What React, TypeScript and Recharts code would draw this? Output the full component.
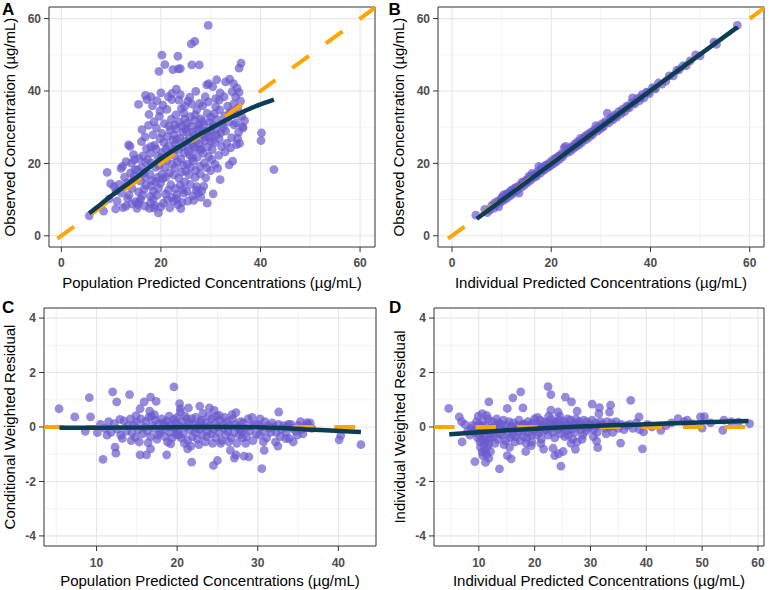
import { CartesianGrid, ReferenceArea, Scatter, ScatterChart, XAxis, YAxis } from 'recharts';

type Pt = [number, number];

// ---- data ----

// A: population predicted vs observed
const popPredObs: Pt[] = [
  [5.6, 5.5], [8.5, 6.8], [9.2, 17.5], [9.6, 10.2], [9.9, 14.4], [10.6, 13.6], [10.9, 7.4],
  [11.2, 9.6], [11.6, 14.2], [12.0, 18.6], [12.3, 19.2], [12.4, 7.8], [12.1, 11.8],
  [13.0, 8.2], [13.3, 10.3], [13.6, 11.2], [13.8, 24.7], [14.2, 13.1], [14.4, 15.2], [14.5, 22.4],
  [13.9, 17.4], [14.8, 18.3], [14.1, 20.1], [14.7, 21.0], [13.5, 25.1], [14.9, 9.4],
  [15.2, 7.6], [15.4, 8.6], [15.6, 9.3], [15.9, 10.1], [16.3, 11.2], [15.5, 12.1], [16.6, 12.8],
  [15.9, 15.1], [16.8, 16.1], [15.3, 18.2], [16.1, 19.0], [16.9, 20.2], [15.6, 21.3], [16.4, 22.1],
  [17.1, 24.1], [16.1, 26.0], [16.8, 27.3], [15.5, 36.3], [16.9, 38.8], [17.2, 37.6], [16.2, 29.3],
  [17.7, 7.6], [18.6, 7.7], [17.9, 9.0], [18.4, 10.1], [17.9, 10.9], [19.2, 11.2], [18.5, 12.3],
  [19.5, 13.1], [19.9, 14.5], [18.2, 15.2], [19.3, 16.1], [17.8, 17.0], [18.9, 18.9], [19.6, 19.4],
  [18.1, 20.1], [19.4, 21.9], [17.9, 22.8], [18.7, 25.0], [19.8, 26.8], [18.4, 27.9], [19.1, 29.8],
  [19.7, 33.0], [18.3, 35.9], [18.0, 38.4], [19.8, 34.5], [19.6, 45.4], [19.5, 6.3],
  [21.8, 7.7], [20.5, 9.0], [21.3, 9.9], [22.2, 10.6], [20.9, 11.5], [21.5, 12.6], [22.0, 14.1],
  [20.4, 15.8], [21.7, 17.4], [20.8, 18.9], [22.3, 19.7], [21.2, 20.8], [20.1, 21.6], [22.0, 22.8],
  [21.0, 23.9], [20.6, 25.8], [22.4, 26.5], [21.3, 27.4], [20.2, 28.3], [21.9, 29.2], [20.7, 31.0],
  [22.1, 32.2], [21.2, 34.9], [20.4, 36.1], [22.2, 37.6], [22.2, 39.3], [20.8, 47.3], [20.2, 49.9],
  [22.4, 45.9],
  [23.4, 8.6], [24.2, 9.2], [23.2, 10.2], [24.6, 11.8], [23.2, 11.4], [22.9, 13.0], [24.8, 14.9],
  [23.6, 15.9], [24.1, 17.6], [22.8, 18.8], [24.5, 19.5], [23.3, 20.4], [24.0, 21.3], [22.7, 22.1],
  [24.7, 22.9], [23.5, 23.8], [24.3, 24.6], [22.9, 25.4], [24.9, 26.2], [23.8, 27.0], [22.6, 27.9],
  [24.4, 28.6], [23.1, 29.5], [24.2, 30.3], [23.7, 31.4], [24.8, 32.2], [23.0, 33.4], [24.1, 35.1],
  [23.6, 37.5], [24.8, 35.8], [23.9, 39.0], [23.5, 46.1], [23.9, 46.2], [23.4, 49.6],
  [25.2, 12.3], [25.4, 9.6], [26.4, 11.0], [27.2, 13.6], [25.9, 14.2], [26.9, 16.1], [25.6, 16.9],
  [27.0, 18.0], [25.3, 19.8], [26.5, 20.6], [27.3, 21.7], [25.8, 22.3], [26.9, 23.9], [25.4, 24.7],
  [26.2, 25.4], [27.1, 26.2], [25.7, 27.0], [26.6, 27.9], [25.1, 28.8], [27.4, 29.4], [26.0, 30.2],
  [25.3, 31.1], [26.8, 31.9], [25.9, 32.9], [27.2, 34.8], [25.4, 37.2], [26.2, 36.4], [27.0, 39.9],
  [26.2, 47.2], [26.1, 53.0], [26.8, 53.7], [27.5, 11.8],
  [29.3, 9.0], [28.0, 10.6], [28.2, 12.4], [28.6, 13.7], [29.2, 18.8], [27.9, 17.1], [28.7, 20.1],
  [29.6, 21.9], [28.1, 23.7], [29.4, 24.5], [27.8, 25.3], [28.8, 26.2], [29.7, 27.1], [28.3, 28.0],
  [29.1, 28.9], [27.7, 29.8], [28.6, 30.7], [29.8, 31.4], [28.0, 32.3], [29.3, 33.8], [28.4, 35.9],
  [29.5, 37.0], [28.9, 38.4], [29.2, 41.7], [29.6, 42.0], [27.7, 47.2], [29.5, 58.1],
  [30.5, 11.6], [31.9, 15.5], [31.4, 18.6], [30.9, 19.7], [31.6, 22.2], [30.3, 23.8], [32.2, 24.6],
  [30.8, 25.7], [31.7, 26.8], [30.2, 27.6], [32.0, 28.4], [31.1, 29.3], [30.5, 30.4], [32.3, 31.0],
  [31.3, 32.1], [30.7, 33.7], [31.8, 34.8], [31.0, 37.9], [31.9, 39.5], [31.7, 37.5], [31.2, 43.1],
  [30.4, 41.2],
  [33.7, 19.6], [34.4, 20.6], [32.9, 23.2], [33.2, 25.5], [34.2, 27.1], [33.0, 28.9], [34.7, 30.6],
  [33.6, 31.4], [32.8, 33.1], [34.1, 34.4], [33.4, 35.8], [34.6, 36.4], [32.7, 38.4], [34.3, 39.8],
  [33.0, 42.5], [33.8, 43.3], [34.6, 42.0],
  [35.2, 25.2], [35.8, 25.5], [35.6, 28.6], [36.4, 30.1], [35.1, 31.2], [36.5, 29.8], [36.2, 33.0],
  [35.4, 35.1], [35.0, 38.4], [36.0, 37.2], [35.7, 39.6], [35.3, 40.8], [36.1, 47.7], [35.7, 46.3],
  [40.2, 28.4], [40.1, 26.3], [42.7, 18.3],
  [17.0, 14.0], [18.0, 13.8], [19.0, 15.0], [20.2, 17.0], [21.0, 16.2], [22.6, 16.8], [23.9, 14.0],
  [24.4, 12.8], [25.0, 17.8], [26.0, 19.0], [26.3, 21.5], [27.8, 19.2], [28.5, 22.8], [30.2, 21.0],
  [29.0, 16.0], [30.0, 18.0], [21.5, 24.8], [22.8, 24.0], [23.2, 26.6], [25.5, 23.3], [26.7, 24.5],
  [27.9, 24.0], [28.7, 27.3], [30.1, 26.0], [31.2, 27.9], [29.9, 29.0], [25.0, 29.6], [26.4, 28.6],
  [27.6, 30.6], [28.4, 31.6], [30.0, 32.8], [26.9, 33.4], [24.6, 33.9], [22.8, 30.6], [21.6, 30.3],
  [19.0, 24.0], [20.3, 23.0], [18.0, 24.6], [17.3, 21.0], [16.6, 17.4], [14.6, 16.4], [13.2, 14.6],
  [12.7, 16.2], [11.0, 12.4], [13.0, 20.5], [18.8, 8.4], [20.0, 8.0], [22.6, 9.6], [16.8, 8.2],
  [14.1, 8.8], [26.6, 9.8], [27.1, 12.6], [24.0, 7.5], [32.5, 29.9], [33.8, 33.9], [34.9, 33.6],
  [31.0, 35.6], [36.8, 31.8], [35.4, 26.9], [34.0, 24.3], [27.8, 36.6], [25.8, 38.3], [23.1, 40.5],
  [21.5, 38.4], [20.0, 39.5], [19.2, 37.3], [17.6, 33.5], [18.6, 31.5], [17.5, 30.5],
];
const popPredLoess: Pt[] = [
  [5.6, 6.2], [8, 8.8], [10, 11.0], [12.5, 13.5], [15, 16.0], [17.5, 18.7], [20, 21.3],
  [22.5, 23.6], [25, 25.7], [27.5, 27.8], [30, 29.7], [32.5, 31.6], [35, 33.3], [37.5, 34.9],
  [40, 36.3], [42.7, 37.6],
];

// B: individual predicted vs observed
const indPredObs: Pt[] = [
  [4.8, 5.7], [6.6, 7.3], [7.1, 6.4], [7.6, 7.1], [8.0, 8.3], [8.4, 7.6], [8.8, 8.4], [9.2, 9.6],
  [9.4, 8.0], [9.8, 9.3], [10.1, 10.6], [10.3, 9.7], [10.6, 10.1], [10.9, 11.2], [11.1, 10.4],
  [11.4, 11.8], [11.7, 11.0], [12.0, 12.6], [12.2, 11.6], [12.5, 12.2], [12.8, 13.3], [13.1, 12.5],
  [13.5, 11.8], [13.7, 13.9], [14.0, 13.4], [14.3, 14.6], [14.6, 14.0], [14.9, 15.4], [15.2, 14.7],
  [15.5, 16.4], [15.8, 15.3], [16.1, 17.2], [16.4, 16.0], [16.7, 16.9], [17.0, 16.4], [17.3, 17.8],
  [17.5, 19.2], [17.8, 17.3], [18.1, 18.9], [18.4, 18.0], [18.7, 18.4], [19.0, 19.6], [19.3, 18.8],
  [19.6, 20.1], [19.9, 19.4], [20.2, 20.8], [20.5, 19.9], [20.8, 21.4], [21.1, 20.5], [21.4, 21.9],
  [21.7, 21.2], [22.0, 22.6], [22.3, 21.8], [22.6, 24.3], [22.9, 24.7], [23.2, 23.0], [23.5, 23.9],
  [23.8, 23.3], [24.1, 24.6], [24.4, 24.0], [24.7, 25.3], [25.0, 24.6], [25.3, 26.0], [25.6, 25.1],
  [25.9, 26.9], [26.2, 25.8], [26.5, 26.9], [26.8, 27.5], [27.1, 26.6], [27.4, 28.1], [27.7, 27.3],
  [28.0, 28.6], [28.3, 27.9], [28.6, 29.2], [29.0, 30.4], [29.3, 28.9], [29.6, 30.1], [29.9, 29.5],
  [30.2, 30.9], [30.5, 30.1], [30.9, 31.5], [31.3, 33.9], [31.6, 31.2], [32.0, 32.6], [32.4, 32.0],
  [32.8, 33.4], [33.2, 32.8], [33.6, 34.3], [34.0, 33.6], [34.4, 35.0], [34.8, 34.3], [35.2, 35.8],
  [35.7, 35.3], [36.2, 36.8], [36.4, 38.1], [36.8, 36.4], [37.3, 37.9], [37.8, 37.3], [38.3, 39.0],
  [38.7, 38.1], [39.2, 39.7], [39.8, 39.3], [40.4, 40.9], [41.0, 40.6], [41.6, 42.2], [42.3, 41.9],
  [43.1, 42.7], [43.8, 44.2], [44.6, 44.2], [45.3, 45.7], [45.8, 45.9], [46.5, 46.9], [47.2, 47.0],
  [48.0, 48.3], [49.1, 50.0], [50.0, 49.7], [52.8, 53.5], [53.3, 52.9], [57.5, 58.1],
  [8.6, 9.1], [9.9, 10.2], [10.4, 11.3], [11.0, 11.6], [11.8, 12.3], [12.6, 13.0], [13.3, 13.6],
  [14.1, 14.8], [15.0, 15.1], [15.6, 15.9], [16.3, 16.6], [17.1, 17.0], [18.0, 18.3], [18.8, 19.3],
  [19.5, 19.2], [20.3, 20.3], [21.0, 21.3], [21.8, 22.1], [22.5, 22.4], [23.3, 23.6], [24.0, 24.1],
  [24.8, 24.9], [25.5, 25.7], [26.3, 26.5], [27.0, 27.2], [27.8, 28.0], [28.5, 28.6], [29.4, 29.7],
  [30.3, 30.2], [31.0, 31.2], [32.1, 32.2], [33.0, 33.1], [34.2, 34.2], [35.4, 35.5], [36.6, 36.7],
  [38.0, 38.2], [39.5, 39.6], [40.8, 40.8],
];
const indPredLoess: Pt[] = [[5, 4.7], [15, 14.8], [30, 30.0], [45, 45.1], [57.6, 57.7]];

// C: population predicted vs CWRES
const popPredCwres: Pt[] = [
  [5.35, 0.67], [7.3, 0.37], [9.1, 1.08], [9.25, 0.37], [8.6, -0.16], [10.1, -0.21], [10.8, -1.19],
  [12.0, 1.29], [12.5, 0.92], [12.3, -0.74], [12.4, -0.96], [14.1, 1.19], [15.4, -1.02], [16.2, -1.02],
  [16.7, -0.8], [15.9, 0.92], [16.7, 1.1], [17.4, 0.94], [15.4, 0.67], [16.6, 0.58], [19.6, 1.47],
  [20.3, 0.86], [20.4, 0.67], [18.7, -1.02], [21.4, 0.7], [22.8, 0.77], [21.3, -0.8], [21.8, -1.29],
  [24.0, 0.7], [24.6, 0.61], [24.5, -1.41], [25.0, -1.23], [25.2, 0.43], [26.6, -0.86], [27.1, -1.14],
  [27.3, -1.02], [27.3, 0.53], [28.3, -1.07], [28.9, -1.1], [30.5, -1.53], [30.8, -0.86], [32.6, 0.55],
  [32.2, -0.55], [32.5, -0.7], [33.5, -0.43], [34.4, -0.55], [36.1, 0.16], [40.1, -0.47], [40.3, -0.31],
  [42.8, -0.65], [35.3, 0.2], [33.9, -0.42],
  [10.5, 0.1], [11.0, -0.05], [11.5, 0.2], [11.8, -0.2], [11.3, -0.3],
  [12.2, 0.12], [12.6, -0.08], [13.0, -0.3], [13.4, 0.22], [13.7, -0.15], [13.9, 0.05], [13.2, -0.42],
  [12.9, 0.28],
  [14.2, 0.3], [14.4, -0.22], [14.6, 0.08], [14.8, -0.38], [15.0, 0.18], [15.2, -0.1], [15.5, 0.3],
  [15.7, -0.25], [15.9, 0.0], [14.3, -0.5], [15.3, -0.55], [14.9, 0.42],
  [16.1, 0.2], [16.3, -0.15], [16.5, 0.35], [16.7, -0.35], [16.9, 0.05], [17.1, -0.05], [17.3, 0.25],
  [17.5, -0.45], [17.7, 0.12], [17.9, -0.2], [16.4, -0.58], [17.2, 0.45], [16.8, 0.4], [17.6, -0.3],
  [18.1, 0.3], [18.2, -0.1], [18.4, 0.05], [18.5, -0.35], [18.7, 0.22], [18.8, -0.55], [19.0, 0.4],
  [19.1, -0.2], [19.3, 0.1], [19.4, -0.4], [19.6, 0.28], [19.7, -0.05], [19.9, -0.28], [18.3, 0.15],
  [19.2, -0.62], [18.9, 0.0], [19.8, 0.15],
  [20.0, 0.35], [20.1, -0.15], [20.3, 0.05], [20.5, -0.4], [20.6, 0.2], [20.8, -0.25], [21.0, 0.4],
  [21.1, 0.0], [21.3, -0.5], [21.5, 0.15], [21.6, -0.1], [21.8, 0.3], [21.9, -0.35], [20.4, 0.55],
  [21.2, 0.3], [20.9, -0.6], [21.7, -0.7], [20.2, -0.3],
  [22.0, 0.1], [22.2, -0.2], [22.3, 0.35], [22.5, -0.45], [22.6, 0.05], [22.8, -0.1], [23.0, 0.25],
  [23.1, -0.3], [23.3, 0.0], [23.5, -0.55], [23.6, 0.15], [23.8, -0.15], [23.9, 0.4], [22.7, -0.65],
  [23.2, 0.5], [22.4, -0.05], [23.7, -0.35], [22.9, 0.2],
  [24.0, 0.05], [24.2, -0.25], [24.3, 0.3], [24.5, -0.1], [24.7, 0.15], [24.8, -0.4], [25.0, 0.0],
  [25.2, -0.2], [25.3, 0.25], [25.5, -0.5], [25.7, 0.1], [25.8, -0.05], [26.0, -0.3], [24.4, -0.6],
  [25.4, -0.6], [25.9, 0.35], [24.9, 0.4],
  [26.2, 0.2], [26.3, -0.15], [26.5, 0.05], [26.7, -0.4], [26.9, 0.3], [27.0, -0.2], [27.2, 0.1],
  [27.4, -0.6], [27.5, 0.0], [27.7, -0.3], [27.9, 0.2], [26.4, -0.55], [27.8, -0.1], [26.8, 0.45],
  [28.0, -0.2], [28.2, 0.15], [28.4, -0.05], [28.6, -0.35], [28.8, 0.3], [29.0, -0.15], [29.2, 0.05],
  [29.4, -0.5], [29.6, 0.1], [29.8, -0.25], [28.5, -0.6], [29.3, 0.35], [28.1, -0.4],
  [30.0, 0.1], [30.2, -0.3], [30.4, 0.0], [30.6, -0.15], [30.9, 0.2], [31.1, -0.4], [31.3, 0.05],
  [31.6, -0.2], [31.8, 0.15], [30.7, -0.55], [31.4, -0.05], [30.3, 0.3],
  [32.0, 0.0], [32.3, -0.2], [32.6, 0.1], [32.9, -0.1], [33.2, 0.05], [33.5, -0.2], [33.8, 0.1],
  [32.8, -0.35], [33.6, 0.0],
  [34.1, 0.1], [34.3, -0.05], [34.7, -0.15], [35.0, 0.05], [35.4, -0.1], [35.8, 0.0], [36.2, 0.1],
  [36.5, 0.15], [36.7, -0.05], [35.6, -0.25], [34.9, -0.3],
];
const popPredCwresLoess: Pt[] = [
  [5.4, -0.03], [10, -0.03], [15, -0.02], [20, -0.01], [25, 0.0], [30, -0.01], [33, -0.04],
  [36, -0.09], [39, -0.13], [42.8, -0.18],
];

// D: individual predicted vs IWRES
const indPredIwres: Pt[] = [
  [4.6, 0.68], [6.5, 0.37], [6.9, 0.2], [7.0, -0.55], [9.3, -1.27], [11.8, 0.92], [9.9, 0.4],
  [10.6, 0.49], [11.4, 0.43], [11.2, -1.3], [11.8, -1.14], [10.6, -0.92], [13.7, -1.54], [15.1, -1.05],
  [15.8, -1.17], [15.1, 0.68], [16.1, 1.07], [17.5, 1.29], [17.9, 0.7], [18.4, -0.9], [19.4, -0.68],
  [22.4, 1.48], [22.9, 1.19], [22.9, 0.62], [24.2, 0.55], [23.6, -1.05], [24.3, -0.98], [24.7, -1.44],
  [25.5, 1.1], [26.6, 0.92], [27.6, 0.58], [27.3, -0.82], [30.3, 0.84], [31.1, -0.52], [31.3, -0.76],
  [31.6, 0.71], [31.5, 0.49], [33.6, 0.8], [33.4, 0.55], [35.4, -0.59], [37.2, 0.98], [38.7, 0.37],
  [39.3, -0.8], [39.5, -0.18], [42.6, -0.12], [45.7, 0.31], [47.3, 0.25], [49.7, 0.37], [50.0, -0.04],
  [53.7, -0.12], [53.9, 0.25], [58.5, 0.12], [21.6, -0.81], [23.3, -0.78], [25.1, -0.9],
  [7.5, 0.1], [8.0, -0.15], [8.4, -0.3], [8.8, 0.05], [9.2, -0.2], [9.6, 0.2], [9.8, -0.4],
  [8.6, -0.05], [9.4, -0.1],
  [10.0, 0.1], [10.1, -0.3], [10.2, -0.55], [10.3, -0.75], [10.4, 0.0], [10.5, -0.2], [10.6, -0.45],
  [10.8, 0.2], [10.9, -0.65], [11.0, -0.35], [11.1, -0.85], [11.2, 0.05], [11.3, -0.5], [11.4, -1.0],
  [11.5, -0.15], [11.6, -0.7], [11.7, 0.3], [11.9, -0.4], [12.0, -0.05], [12.1, -0.9], [12.2, -0.25],
  [10.7, -1.05], [11.8, -0.6],
  [12.4, 0.2], [12.6, -0.35], [12.8, 0.05], [13.0, -0.15], [13.2, 0.3], [13.4, -0.45], [13.6, 0.0],
  [13.8, -0.25], [12.9, -0.6], [13.5, 0.15],
  [14.0, 0.1], [14.2, -0.3], [14.4, 0.25], [14.6, -0.1], [14.8, -0.5], [15.0, 0.05], [15.2, -0.2],
  [15.4, 0.2], [15.6, -0.4], [15.8, 0.0], [14.5, -0.65], [15.5, -0.75], [16.0, -0.3],
  [16.2, 0.15], [16.4, -0.1], [16.6, -0.35], [16.8, 0.05], [17.0, -0.2], [17.2, 0.25], [17.4, -0.5],
  [17.6, 0.0], [17.8, -0.15], [16.5, -0.55], [17.9, 0.1],
  [18.0, -0.35], [18.2, 0.1], [18.4, -0.05], [18.6, -0.4], [18.8, 0.2], [19.0, -0.2], [19.2, 0.05],
  [19.4, -0.3], [19.6, 0.15], [19.8, -0.1], [18.5, -0.6], [19.5, -0.55],
  [20.0, 0.3], [20.2, -0.05], [20.4, -0.3], [20.6, 0.1], [20.8, -0.2], [21.0, 0.25], [21.2, -0.45],
  [21.4, 0.0], [21.6, -0.15], [21.8, 0.2], [20.5, 0.35], [21.1, -0.6], [20.9, 0.05],
  [22.0, -0.1], [22.2, 0.15], [22.4, -0.3], [22.6, 0.05], [22.8, -0.05], [23.0, 0.3], [23.2, -0.2],
  [23.4, 0.1], [23.6, -0.4], [23.8, 0.0], [22.5, 0.4], [23.5, 0.2],
  [24.0, 0.15], [24.2, -0.1], [24.4, 0.25], [24.6, -0.25], [24.8, 0.05], [25.0, -0.05], [25.2, 0.2],
  [25.4, -0.35], [25.6, 0.1], [25.8, -0.15], [24.5, 0.4], [25.9, 0.3],
  [26.0, -0.3], [26.2, 0.05], [26.4, 0.25], [26.6, -0.1], [26.8, -0.45], [27.0, 0.1], [27.2, -0.2],
  [27.4, 0.3], [27.6, -0.55], [27.8, 0.0], [26.5, -0.6], [27.3, 0.15],
  [28.0, 0.2], [28.2, -0.1], [28.4, 0.05], [28.6, -0.3], [28.8, 0.25], [29.0, 0.0], [29.2, -0.15],
  [29.4, 0.2], [29.6, -0.05], [29.8, 0.1], [28.5, -0.45],
  [30.0, 0.05], [30.3, 0.25], [30.6, -0.1], [30.9, 0.15], [31.2, -0.2], [31.5, 0.05], [31.8, 0.2],
  [30.5, -0.35],
  [32.2, 0.1], [32.6, -0.05], [33.0, 0.2], [33.4, 0.0], [33.8, 0.15], [34.2, 0.05], [34.6, 0.2],
  [35.0, -0.05], [35.5, 0.1], [36.0, -0.1], [36.5, 0.05], [32.8, -0.25], [34.0, -0.2],
  [37.0, 0.1], [37.6, -0.05], [38.2, 0.15], [38.8, -0.1], [40.2, 0.1], [41.0, 0.0], [43.5, 0.05],
  [44.5, 0.15], [46.8, 0.2], [48.1, 0.12], [50.4, 0.38], [51.5, 0.15], [55.2, 0.2], [56.5, 0.18],
];
const indPredIwresLoess: Pt[] = [
  [4.7, -0.27], [10, -0.19], [15, -0.12], [20, -0.06], [25, -0.01], [30, 0.03], [35, 0.07],
  [40, 0.1], [45, 0.14], [50, 0.17], [55, 0.2], [58.3, 0.22],
];

// reference lines (identity / zero)
const identityLine: Pt[] = [[-0.8, -0.8], [64, 64]];
const zeroLineC: Pt[] = [[3.48, 0], [44.67, 0]];
const zeroLineD: Pt[] = [[1.97, 0], [61.08, 0]];

// ticks
const concTicks = [0, 20, 40, 60];
const concMinor = [10, 30, 50];
const resTicks = [-4, -2, 0, 2, 4];
const resMinor = [-3, -1, 1, 3];
const popTicksC = [10, 20, 30, 40];
const popMinorC = [5, 15, 25, 35];
const indTicksD = [10, 20, 30, 40, 50, 60];
const indMinorD = [5, 15, 25, 35, 45, 55];

const toXY = (pts: Pt[]) => pts.map(([x, y]) => ({ x, y }));

const POINT = '#6a5acd';
const SMOOTH = '#0b3d55';
const DASH = '#ffa500';
const FONT = '"Liberation Sans", Arial, Helvetica, sans-serif';

const Dot = (p: any) => (
  <circle cx={p.cx} cy={p.cy} r={4.4} fill={POINT} fillOpacity={0.7} />
);
const NoDot = () => <g />;

type PanelProps = {
  left: number;
  top: number;
  margin: { top: number; right: number; left: number; bottom: number };
  yWidth: number;
  xHeight: number;
  xDomain: [number, number];
  yDomain: [number, number];
  xTicks: number[];
  xMinor: number[];
  yTicks: number[];
  yMinor: number[];
  xTitle: string;
  yTitle: string;
  yTitleX: number;
  xTitleOffset: number;
  xTickMargin: number;
  points: Pt[];
  refLine: Pt[];
  smooth: Pt[];
};

function Panel(p: PanelProps) {
  const tick = { fill: '#4d4d4d', fontSize: 12, fontWeight: 700, fontFamily: FONT };
  return (
    <div style={{ position: 'absolute', left: p.left, top: p.top }}>
      <ScatterChart width={386} height={295} margin={p.margin}>
        <CartesianGrid
          horizontalValues={p.yMinor}
          verticalValues={p.xMinor}
          stroke="#f0f0f0"
          strokeWidth={0.8}
        />
        <CartesianGrid
          horizontalValues={p.yTicks}
          verticalValues={p.xTicks}
          stroke="#e6e6e6"
          strokeWidth={1.1}
        />
        <XAxis
          type="number"
          dataKey="x"
          domain={p.xDomain}
          allowDataOverflow
          ticks={p.xTicks}
          height={p.xHeight}
          tick={tick}
          tickSize={5}
          tickMargin={p.xTickMargin}
          tickLine={{ stroke: '#333333' }}
          axisLine={false}
          label={{
            value: p.xTitle,
            position: 'insideBottom',
            offset: p.xTitleOffset,
            style: { fontSize: 15, fill: '#000', fontFamily: FONT },
          }}
        />
        <YAxis
          type="number"
          dataKey="y"
          domain={p.yDomain}
          allowDataOverflow
          ticks={p.yTicks}
          width={p.yWidth}
          tick={tick}
          tickSize={5}
          tickMargin={3}
          tickLine={{ stroke: '#333333' }}
          axisLine={false}
          label={{
            value: p.yTitle,
            angle: -90,
            position: 'insideLeft',
            offset: p.yTitleX,
            style: { textAnchor: 'middle', fontSize: 15, fill: '#000', fontFamily: FONT },
          }}
        />
        <Scatter data={toXY(p.points)} shape={Dot} isAnimationActive={false} />
        <Scatter
          data={toXY(p.refLine)}
          shape={NoDot}
          line={{ stroke: DASH, strokeWidth: 4, strokeDasharray: '20.5 21' }}
          isAnimationActive={false}
        />
        <Scatter
          data={toXY(p.smooth)}
          shape={NoDot}
          line={{ stroke: SMOOTH, strokeWidth: 4.5 }}
          lineJointType="monotoneX"
          isAnimationActive={false}
        />
        <ReferenceArea
          x1={p.xDomain[0]}
          x2={p.xDomain[1]}
          y1={p.yDomain[0]}
          y2={p.yDomain[1]}
          fill="none"
          fillOpacity={0}
          stroke="#333333"
          strokeWidth={1}
          ifOverflow="visible"
        />
      </ScatterChart>
    </div>
  );
}

export default function App() {
  return (
    <div
      style={{
        position: 'absolute',
        left: 0,
        top: 0,
        width: 772,
        height: 590,
        background: '#fff',
        fontFamily: FONT,
      }}
    >
      <Panel
        left={0}
        top={0}
        margin={{ top: 7, right: 11, left: 0, bottom: 0 }}
        yWidth={49}
        xHeight={48}
        xDomain={[-2.48, 63.0]}
        yDomain={[-3.1, 63.2]}
        xTicks={concTicks}
        xMinor={concMinor}
        yTicks={concTicks}
        yMinor={concMinor}
        xTitle="Population Predicted Concentrations (µg/mL)"
        yTitle="Observed Concentration (µg/mL)"
        yTitleX={10}
        xTitleOffset={7.5}
        xTickMargin={6}
        points={popPredObs}
        refLine={identityLine}
        smooth={popPredLoess}
      />
      <Panel
        left={386}
        top={0}
        margin={{ top: 7, right: 8, left: 0, bottom: 0 }}
        yWidth={52}
        xHeight={48}
        xDomain={[-2.82, 62.88]}
        yDomain={[-3.1, 63.2]}
        xTicks={concTicks}
        xMinor={concMinor}
        yTicks={concTicks}
        yMinor={concMinor}
        xTitle="Individual Predicted Concentrations (µg/mL)"
        yTitle="Observed Concentration (µg/mL)"
        yTitleX={13}
        xTitleOffset={7.5}
        xTickMargin={6}
        points={indPredObs}
        refLine={identityLine}
        smooth={indPredLoess}
      />
      <Panel
        left={0}
        top={295}
        margin={{ top: 13, right: 10, left: 0, bottom: 0 }}
        yWidth={44}
        xHeight={44}
        xDomain={[3.48, 44.67]}
        yDomain={[-4.37, 4.37]}
        xTicks={popTicksC}
        xMinor={popMinorC}
        yTicks={resTicks}
        yMinor={resMinor}
        xTitle="Population Predicted Concentrations (µg/mL)"
        yTitle="Conditional Weighted Residual"
        yTitleX={10}
        xTitleOffset={4.5}
        xTickMargin={7}
        points={popPredCwres}
        refLine={zeroLineC}
        smooth={popPredCwresLoess}
      />
      <Panel
        left={386}
        top={295}
        margin={{ top: 13, right: 8, left: 0, bottom: 0 }}
        yWidth={48}
        xHeight={44}
        xDomain={[1.97, 61.08]}
        yDomain={[-4.37, 4.37]}
        xTicks={indTicksD}
        xMinor={indMinorD}
        yTicks={resTicks}
        yMinor={resMinor}
        xTitle="Individual Predicted Concentrations (µg/mL)"
        yTitle="Individual Weighted Residual"
        yTitleX={14}
        xTitleOffset={4.5}
        xTickMargin={7}
        points={indPredIwres}
        refLine={zeroLineD}
        smooth={indPredIwresLoess}
      />
      <svg
        width={772}
        height={590}
        style={{ position: 'absolute', left: 0, top: 0, pointerEvents: 'none' }}
      >
        <g fontFamily={FONT} fontSize={17} fontWeight={700} fill="#000">
          <text x={2} y={15}>A</text>
          <text x={388.5} y={15}>B</text>
          <text x={2} y={313}>C</text>
          <text x={389} y={313}>D</text>
        </g>
      </svg>
    </div>
  );
}
